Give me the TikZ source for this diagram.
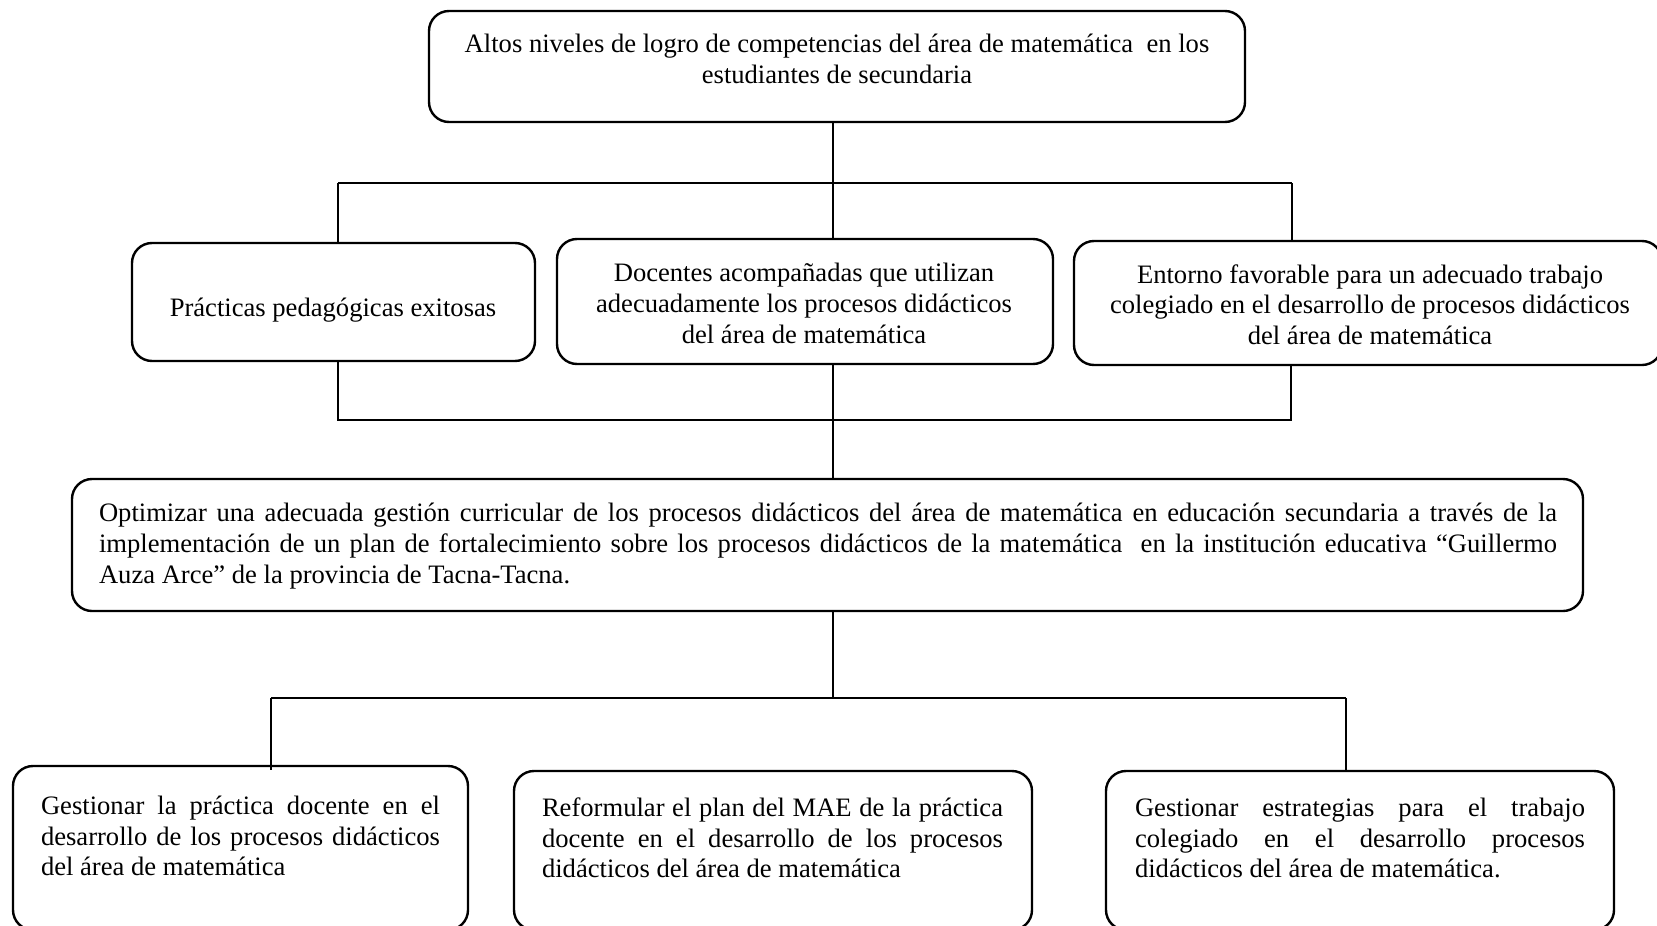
\documentclass[tikz,border=0pt]{standalone}
\usepackage{fontspec}
\setmainfont{Liberation Serif}
\tikzset{
  box/.style={draw=black, line width=2.4pt, rounded corners=20pt, rectangle, inner sep=0pt},
  conn/.style={draw=black, line width=1.2pt},
  txt/.style={inner sep=0pt, font=\fontsize{26.6}{30.6}\selectfont},
}
\begin{document}
\begin{tikzpicture}[x=1pt,y=-1pt]
\useasboundingbox (0,0) rectangle (1657,926);
\clip (0,0) rectangle (1657,926);
\fill[white] (0,0) rectangle (1657,926);
% boxes
\node[box, minimum width=816pt, minimum height=111pt] (top) at (837,66.5) {};
\node[box, minimum width=403pt, minimum height=118pt] (A) at (333.5,302) {};
\node[box, minimum width=496pt, minimum height=125pt] (B) at (805,301.5) {};
\node[box, minimum width=588pt, minimum height=124pt] (C) at (1368,303) {};
\node[box, minimum width=1511pt, minimum height=132pt] (main) at (827.5,545) {};
\node[box, minimum width=455pt, minimum height=164pt] (D) at (240.5,848) {};
\node[box, minimum width=518pt, minimum height=159pt] (E) at (773,850.5) {};
\node[box, minimum width=508pt, minimum height=159pt] (F) at (1360,850.5) {};
% texts
\node[txt, align=center] (ttop) at (837,58.7) {Altos niveles de logro de competencias del área de matemática\ \ en los\\estudiantes de secundaria};
\node[txt, align=center] (tA) at (333,310.5) {Prácticas pedagógicas exitosas};
\node[txt, align=center] (tB) at (804,303.3) {Docentes acompañadas que utilizan\\adecuadamente los procesos didácticos\\del área de matemática};
\node[txt, align=center] (tC) at (1370,304.4) {Entorno favorable para un adecuado trabajo\\colegiado en el desarrollo de procesos didácticos\\del área de matemática};
\node[txt, align=justify, text width=1458pt] (tmain) at (828,546) {Optimizar una adecuada gestión curricular de los procesos didácticos del área de matemática en educación secundaria a través de la\linebreak implementación de un plan de fortalecimiento sobre los procesos didácticos de la matemática\ \ en la institución educativa “Guillermo\linebreak Auza Arce” de la provincia de Tacna-Tacna.};
\node[txt, align=justify, text width=399pt] (tD) at (240.5,836) {Gestionar la práctica docente en el\linebreak desarrollo de los procesos didácticos\linebreak del área de matemática};
\node[txt, align=justify, text width=461pt] (tE) at (772.5,838) {Reformular el plan del MAE de la práctica\linebreak docente en el desarrollo de los procesos\linebreak didácticos del área de matemática};
\node[txt, align=justify, text width=450pt] (tF) at (1360,838) {Gestionar estrategias para el trabajo\linebreak colegiado en el desarrollo procesos\linebreak didácticos del área de matemática.};
% connector coordinates
\coordinate (h1l) at (338,183);
\coordinate (h1r) at (1292,183);
\coordinate (v) at (833,183);
\coordinate (h2l) at (338,420);
\coordinate (h2r) at (1291,420);
\coordinate (h3l) at (271,698);
\coordinate (h3r) at (1346,698);
% top level
\draw[conn] (top.south -| v) -- (v |- B.north);
\draw[conn] (h1l) -- (h1r);
\draw[conn] (h1l) -- (h1l |- A.north);
\draw[conn] (h1r) -- (h1r |- C.north);
% middle level
\draw[conn] (B.south -| v) -- (v |- main.north);
\draw[conn] (h2l |- A.south) -- (h2l) -- (h2r) -- (h2r |- C.south);
% bottom level
\draw[conn] (main.south -| v) -- (v |- h3l);
\draw[conn] (h3l) -- (h3r);
\draw[conn] (h3l) -- ([yshift=-5pt]h3l |- D.north);
\draw[conn] (h3r) -- (h3r |- F.north);
\end{tikzpicture}
\end{document}
